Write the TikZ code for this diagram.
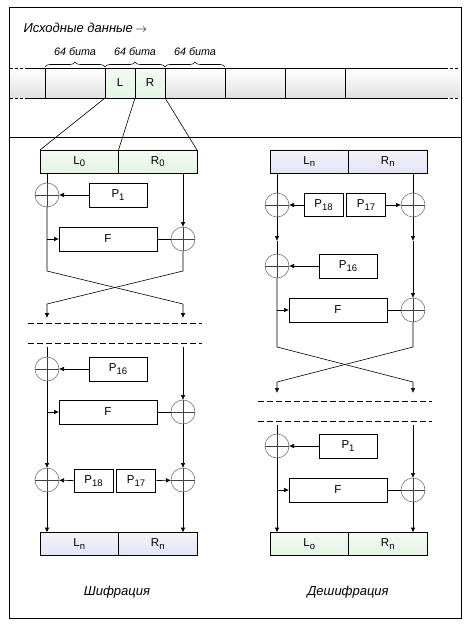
\documentclass[tikz,border=0pt]{standalone}
\usepackage{fontspec}
\setmainfont{Liberation Sans}
\usetikzlibrary{arrows.meta,decorations.pathreplacing}

\definecolor{mint}{RGB}{228,244,228}
\definecolor{lilac}{RGB}{228,228,246}

\newcommand{\idx}[1]{\raisebox{-2.5pt}{\fontsize{9.5}{10}\selectfont #1}}

\tikzset{
  txt/.style={font=\fontsize{11.5}{13}\selectfont},
  cell/.style={draw, txt, inner sep=0pt, outer sep=0pt},
  half/.style={cell, minimum width=78.5pt, minimum height=23pt, top color=#1!45, bottom color=#1},
  kbox/.style={cell, minimum width=58pt, minimum height=24pt},
  kboxs/.style={cell, minimum width=39pt, minimum height=23pt},
  funcbox/.style={cell, minimum width=98pt, minimum height=24pt},
  xor/.style={circle, draw=black!55, minimum size=24pt, inner sep=0pt, outer sep=0pt,
    path picture={\draw[black!75] (path picture bounding box.north) -- (path picture bounding box.south)
      (path picture bounding box.west) -- (path picture bounding box.east);}},
  itlabel/.style={font=\itshape\fontsize{13}{15}\selectfont},
  bitlabel/.style={font=\itshape\fontsize{10.8}{12}\selectfont},
  dashes/.style={dash pattern=on 6pt off 3pt},
}

\begin{document}
\begin{tikzpicture}[x=1pt, y=-1pt, line width=0.6pt, >={Latex[length=5pt,width=4.5pt]}]

\useasboundingbox (0,0) rectangle (470,628);
\draw[line width=0.8pt] (9,7) rectangle (461,618);
\draw (9,137) -- (461,137);

% source data
\node[itlabel, anchor=west] (src) at (20,28) {Исходные данные\,$\rightarrow$};

\shade[top color=white, bottom color=black!12] (10,68) rectangle (460,98);
\node[cell, minimum width=30pt, minimum height=30pt, top color=mint!45, bottom color=mint] (lc) at (120,83) {L};
\node[cell, minimum width=30pt, minimum height=30pt, top color=mint!45, bottom color=mint] (rc) at (150,83) {R};
\draw (25,68) -- (445,68) (25,98) -- (445,98);
\draw[dash pattern=on 3pt off 2pt] (10,68) -- (25,68) (445,68) -- (460,68) (10,98) -- (25,98) (445,98) -- (460,98);
\foreach \x in {45,225,285,345} \draw (\x,68) -- (\x,98);

\foreach \x in {45,105,165}
  \draw[decorate, decoration={brace, amplitude=5pt}] (\x,67) -- (\x+60,67);
\node[bitlabel] (b1) at (75,52) {64 бита};
\node[bitlabel] (b2) at (135,52) {64 бита};
\node[bitlabel] (b3) at (195,52) {64 бита};

% encryption
\node[half=mint] (l0) at (79.25,161.5) {L\idx{0}};
\node[half=mint] (r0) at (157.75,161.5) {R\idx{0}};
\draw (lc.south west) -- (l0.north west);
\draw (lc.south east) -- (r0.north west);
\draw (rc.south east) -- (r0.north east);

\node[xor] (x1) at (47,195) {};
\node[kbox] (p1) at (118,195) {P\idx{1}};
\node[funcbox] (f1) at (108,239) {F};
\node[xor] (x2) at (183,239) {};
\draw (l0.south -| x1) -- (x1);
\draw[->] (p1) -- (x1);
\draw[->] (r0.south -| x2) -- (x2);
\draw[->] (x1 |- f1) -- (f1);
\draw (f1) -- (x2);
\draw[->] (x1) -- ++(0,76) -- ++(136,33) -- ++(0,14);
\draw[->] (x2) -- ++(0,32) -- ++(-136,33) -- ++(0,14);

\draw[dashes] (28,323) -- (202,323);
\draw[dashes] (28,343) -- (202,343);

\coordinate (s1) at (47,347);
\coordinate (s2) at (183,347);
\node[xor] (x3) at (47,369) {};
\node[kbox] (p16) at (118,369) {P\idx{16}};
\node[funcbox] (f2) at (108,412) {F};
\node[xor] (x4) at (183,412) {};
\node[xor] (x5) at (47,480) {};
\node[xor] (x6) at (183,480) {};
\node[kboxs] (p18) at (93.5,481) {P\idx{18}};
\node[kboxs] (p17) at (136,481) {P\idx{17}};
\node[half=lilac] (ln) at (79.25,544) {L\idx{n}};
\node[half=lilac] (rn) at (157.75,544) {R\idx{n}};

\draw (s1) -- (x3);
\draw[->] (p16) -- (x3);
\draw[->] (s2) -- (x4);
\draw[->] (x3 |- f2) -- (f2);
\draw (f2) -- (x4);
\draw[->] (x3) -- (x5);
\draw[->] (x4) -- (x6);
\draw[->] (p18) -- (x5);
\draw[->] (p17) -- (x6);
\draw[->] (x5) -- (x5 |- ln.north);
\draw[->] (x6) -- (x6 |- rn.north);

% decryption
\node[half=lilac] (ln2) at (309.25,161.5) {L\idx{n}};
\node[half=lilac] (rn2) at (387.75,161.5) {R\idx{n}};
\node[xor] (x7) at (277,205) {};
\node[xor] (x8) at (413,205) {};
\node[kboxs] (q18) at (323.5,205) {P\idx{18}};
\node[kboxs] (q17) at (366,205) {P\idx{17}};
\coordinate (a1) at (277,241);
\coordinate (a2) at (413,241);
\node[xor] (x9) at (277,266) {};
\node[kbox] (q16) at (348,266) {P\idx{16}};
\node[funcbox] (f3) at (338,310) {F};
\node[xor] (x10) at (413,310) {};

\draw (ln2.south -| x7) -- (x7);
\draw (rn2.south -| x8) -- (x8);
\draw[->] (q18) -- (x7);
\draw[->] (q17) -- (x8);
\draw[->] (x7) -- (a1);
\draw (a1) -- (x9);
\draw[->] (x8) -- (a2);
\draw[->] (a2) -- (x10);
\draw[->] (q16) -- (x9);
\draw[->] (x9 |- f3) -- (f3);
\draw (f3) -- (x10);
\draw[->] (x9) -- ++(0,81) -- ++(136,35) -- ++(0,11);
\draw[->] (x10) -- ++(0,37) -- ++(-136,35) -- ++(0,11);

\draw[dashes] (258,401) -- (432,401);
\draw[dashes] (258,421) -- (432,421);

\coordinate (s3) at (277,425);
\coordinate (s4) at (413,425);
\node[xor] (x11) at (277,446) {};
\node[kbox] (q1) at (348,446) {P\idx{1}};
\node[funcbox] (f4) at (338,490) {F};
\node[xor] (x12) at (413,490) {};
\node[half=mint] (lo) at (309.25,544) {L\idx{o}};
\node[half=mint] (rn3) at (387.75,544) {R\idx{n}};

\draw (s3) -- (x11);
\draw[->] (q1) -- (x11);
\draw[->] (s4) -- (x12);
\draw[->] (x11 |- f4) -- (f4);
\draw (f4) -- (x12);
\draw[->] (x11) -- (x11 |- lo.north);
\draw[->] (x12) -- (x12 |- rn3.north);

\node[itlabel] (enc) at (117,592) {Шифрация};
\node[itlabel] (dec) at (348,592) {Дешифрация};

\end{tikzpicture}
\end{document}
